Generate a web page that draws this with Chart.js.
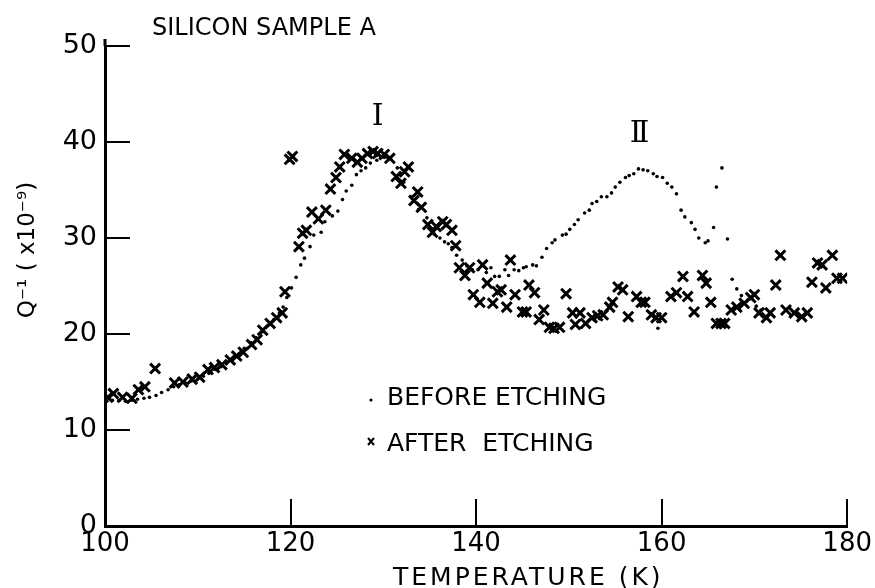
<!DOCTYPE html>
<html>
<head>
<meta charset="utf-8">
<script src="https://cdn.jsdelivr.net/npm/chart.js@4.4.1/dist/chart.umd.min.js"></script>
<style>
  html, body { margin: 0; padding: 0; background: #fff; }
  #wrap { width: 875px; height: 588px; }
</style>
</head>
<body>
<div id="wrap"><canvas id="chart" width="875" height="588"></canvas></div>
<script>
// Internal friction Q^-1 (x1e-9) vs temperature, silicon sample A
var beforeT = [100.2, 100.8, 101.5, 102.2, 102.9, 103.5, 104.2, 104.8, 105.5, 106.1,
  106.8, 107.4, 108.0, 108.7, 109.3, 110.0, 110.6, 111.2, 111.9, 112.5,
  113.1, 113.8, 114.4, 115.0, 115.7, 116.3, 116.9, 117.6, 118.2, 118.8,
  119.2, 119.6, 120.1, 120.6, 121.1, 121.5, 122.1, 122.5, 123.3, 123.7,
  124.5, 125.1, 125.6, 126.0, 126.6, 127.1, 127.6, 128.1, 128.6, 129.3,
  130.1, 130.8, 131.5, 132.2, 133.0, 133.8, 134.7, 135.5, 136.1, 136.6,
  137.0, 137.4, 137.9, 138.5, 139.0, 139.6, 140.2, 141.1, 141.6, 142.0,
  142.5, 143.1, 143.5, 144.1, 144.6, 145.1, 145.4, 146.1, 146.5, 147.1,
  147.6, 148.2, 148.5, 149.3, 149.7, 150.1, 150.6, 151.0, 151.7, 152.2,
  152.5, 153.0, 153.5, 154.1, 154.6, 155.0, 155.5, 156.1, 156.5, 157.0,
  157.5, 158.0, 158.5, 159.1, 159.5, 159.6, 160.1, 160.6, 161.1, 161.6,
  162.1, 162.5, 163.2, 163.6, 164.0, 164.7, 165.0, 165.6, 165.9, 166.5,
  167.1, 167.6, 168.1, 168.6, 170.2, 170.7];
var beforeQ = [13.0, 13.1, 13.1, 13.0, 13.1, 13.2, 13.3, 13.4, 13.6, 13.9,
  14.2, 14.5, 14.7, 14.9, 15.1, 15.3, 15.6, 15.9, 16.3, 16.6,
  17.0, 17.5, 17.9, 18.5, 19.1, 19.6, 20.2, 20.9, 21.5, 22.2,
  22.8, 23.8, 24.8, 25.9, 27.2, 27.9, 29.1, 30.3, 30.6, 31.7,
  32.3, 32.8, 34.0, 34.9, 35.5, 36.6, 37.0, 37.3, 37.8, 38.1,
  38.4, 38.2, 37.3, 35.8, 34.3, 33.0, 32.1, 30.4, 30.0, 29.6,
  29.4, 29.0, 28.2, 27.7, 27.1, 26.7, 26.7, 26.4, 26.9, 26.0,
  26.0, 26.7, 26.1, 26.7, 26.6, 26.9, 27.0, 27.2, 27.1, 28.0,
  28.9, 29.5, 29.8, 30.3, 30.4, 30.9, 31.4, 31.9, 32.6, 32.9,
  33.6, 33.8, 34.3, 34.3, 34.7, 35.3, 35.8, 36.3, 36.5, 36.7,
  37.2, 37.1, 37.0, 36.7, 36.4, 20.6, 36.3, 35.7, 35.3, 34.6,
  32.9, 32.2, 31.6, 30.9, 30.0, 29.5, 29.7, 31.1, 35.3, 37.3,
  29.9, 25.7, 24.7, 24.0, 22.9, 22.5];

var afterT = [100.3, 100.9, 101.9, 102.9, 103.6, 104.3, 105.4, 107.5, 108.4, 109.4,
  110.2, 111.1, 111.8, 112.6, 113.5, 114.2, 114.9, 115.8, 116.4, 117.0,
  117.8, 118.5, 119.1, 119.4, 119.9, 120.2, 120.9, 121.3, 121.7, 122.3,
  123.0, 123.8, 124.3, 124.9, 125.3, 125.8, 126.6, 127.2, 127.7, 128.3,
  128.9, 129.4, 130.1, 130.7, 131.4, 131.9, 132.3, 132.7, 133.3, 133.7,
  134.1, 134.8, 135.3, 135.7, 136.4, 136.8, 137.4, 137.8, 138.2, 138.8,
  139.3, 139.7, 140.4, 140.7, 141.2, 141.8, 142.3, 142.7, 143.3, 143.7,
  144.2, 145.0, 145.4, 145.7, 146.3, 146.8, 147.3, 147.9, 148.4, 149.0,
  149.7, 150.4, 150.7, 151.2, 151.8, 152.5, 153.1, 153.7, 154.4, 154.7,
  155.3, 155.8, 156.4, 157.3, 157.8, 158.2, 158.9, 159.4, 160.0, 161.0,
  161.6, 162.3, 162.8, 163.5, 164.4, 164.8, 165.3, 165.9, 166.4, 166.8,
  167.5, 168.1, 168.9, 169.6, 170.0, 170.5, 171.3, 171.7, 172.3, 172.8,
  173.4, 174.3, 175.1, 175.7, 176.2, 176.8, 177.3, 177.7, 178.4, 178.9,
  179.5];
var afterQ = [13.4, 13.8, 13.4, 13.3, 14.2, 14.5, 16.4, 14.9, 15.0, 15.3,
  15.5, 16.3, 16.5, 16.8, 17.3, 17.7, 18.1, 18.9, 19.4, 20.4,
  21.1, 21.7, 22.2, 24.4, 38.2, 38.5, 29.1, 30.5, 30.8, 32.7,
  32.0, 32.9, 35.1, 36.3, 37.4, 38.7, 38.3, 37.9, 38.3, 38.8,
  39.0, 38.8, 38.7, 38.3, 36.4, 35.7, 36.9, 37.4, 33.9, 34.8,
  33.2, 31.4, 30.6, 31.2, 31.7, 31.4, 30.8, 29.2, 26.9, 26.1,
  26.9, 24.1, 23.3, 27.2, 25.3, 23.2, 24.4, 24.6, 22.8, 27.7,
  24.1, 22.3, 22.3, 25.1, 24.3, 21.5, 22.5, 20.7, 20.6, 20.7,
  24.2, 22.2, 21.0, 22.2, 21.1, 21.7, 21.9, 22.0, 22.8, 23.3,
  24.9, 24.6, 21.8, 23.9, 23.3, 23.3, 22.0, 21.7, 21.7, 23.9,
  24.3, 26.0, 23.9, 22.3, 26.1, 25.3, 23.3, 21.1, 21.1, 21.1,
  22.5, 22.8, 23.2, 23.8, 24.1, 22.2, 21.7, 22.2, 25.1, 28.2,
  22.5, 22.2, 21.8, 22.2, 25.4, 27.4, 27.2, 24.8, 28.2, 25.8,
  25.8];

var tempTicks = [100, 120, 140, 160, 180];
var qTicks = [0, 10, 20, 30, 40, 50];

var FONT = '"DejaVu Sans", sans-serif';

function points(xs, ys) {
  return xs.map(function (x, i) { return { x: x, y: ys[i] }; });
}

// inward tick marks and the short stub above the top of the Q axis
var innerTicks = {
  id: 'innerTicks',
  afterDraw: function (chart) {
    var ctx = chart.ctx, xs = chart.scales.x, ys = chart.scales.y;
    ctx.save();
    ctx.strokeStyle = '#000';
    ctx.lineWidth = 2;
    ctx.beginPath();
    tempTicks.slice(1).forEach(function (t) {
      var px = Math.round(xs.getPixelForValue(t));
      ctx.moveTo(px, ys.bottom);
      ctx.lineTo(px, ys.bottom - 27);
    });
    qTicks.slice(1).forEach(function (q) {
      var py = Math.round(ys.getPixelForValue(q));
      ctx.moveTo(xs.left, py);
      ctx.lineTo(xs.left + 25, py);
    });
    ctx.stroke();
    ctx.lineWidth = 3;
    ctx.beginPath();
    ctx.moveTo(xs.left, ys.top);
    ctx.lineTo(xs.left, ys.top - 7);
    ctx.stroke();
    ctx.restore();
  }
};

// title, axis titles, legend and peak labels
var annotations = {
  id: 'annotations',
  afterDraw: function (chart) {
    var ctx = chart.ctx, xs = chart.scales.x, ys = chart.scales.y;
    ctx.save();
    ctx.fillStyle = '#000';
    ctx.strokeStyle = '#000';
    ctx.textBaseline = 'alphabetic';

    ctx.font = '24px ' + FONT;
    ctx.textAlign = 'left';
    ctx.fillText('SILICON SAMPLE A', 152, 35);

    ctx.font = '25px ' + FONT;
    ctx.letterSpacing = '3px';
    ctx.fillText('TEMPERATURE (K)', 393, 585);

    // legend
    ctx.letterSpacing = '0px';
    ctx.fillText('BEFORE ETCHING', 387, 405);
    ctx.fillText('AFTER  ETCHING', 387, 451);
    ctx.beginPath();
    ctx.arc(371, 400, 1.6, 0, Math.PI * 2);
    ctx.fill();
    ctx.lineWidth = 2;
    ctx.beginPath();
    ctx.moveTo(368, 438); ctx.lineTo(374, 445);
    ctx.moveTo(374, 438); ctx.lineTo(368, 445);
    ctx.stroke();

    // peak labels
    ctx.font = '30px "DejaVu Serif", serif';
    ctx.textAlign = 'center';
    ctx.textBaseline = 'middle';
    ctx.fillText('I', xs.getPixelForValue(129.4), ys.getPixelForValue(42.6));
    ctx.letterSpacing = '-4px';
    ctx.fillText('II', xs.getPixelForValue(157.4), ys.getPixelForValue(40.8));
    ctx.letterSpacing = '0px';

    // rotated Q axis title
    ctx.translate(28, 250);
    ctx.rotate(-Math.PI / 2);
    ctx.font = '23px ' + FONT;
    ctx.fillText('Q\u207B\u00B9 ( x10\u207B\u2079)', 0, 0);
    ctx.restore();
  }
};

new Chart(document.getElementById('chart'), {
  type: 'scatter',
  data: {
    datasets: [{
      label: 'BEFORE ETCHING',
      data: points(beforeT, beforeQ),
      pointStyle: 'circle',
      pointRadius: 1.8,
      pointBorderWidth: 0,
      pointBackgroundColor: '#000',
      borderColor: '#000'
    }, {
      label: 'AFTER ETCHING',
      data: points(afterT, afterQ),
      pointStyle: 'crossRot',
      pointRadius: 7,
      pointBorderWidth: 3,
      pointBorderColor: '#000',
      borderColor: '#000'
    }]
  },
  options: {
    responsive: false,
    animation: false,
    devicePixelRatio: 1,
    layout: { padding: { left: 0, top: 46, right: 27, bottom: 0 } },
    plugins: { legend: { display: false }, tooltip: { enabled: false } },
    scales: {
      x: {
        type: 'linear',
        min: 100,
        max: 180,
        afterBuildTicks: function (scale) {
          scale.ticks = tempTicks.map(function (v) { return { value: v }; });
        },
        afterFit: function (scale) { scale.height = 62; },
        grid: { display: false, drawTicks: false },
        border: { display: true, color: '#000', width: 3 },
        ticks: { color: '#000', padding: 3, font: { family: FONT, size: 26 }, maxRotation: 0 }
      },
      y: {
        type: 'linear',
        min: 0,
        max: 50,
        afterBuildTicks: function (scale) {
          scale.ticks = qTicks.map(function (v) { return { value: v }; });
        },
        afterFit: function (scale) { scale.width = 105; },
        grid: { display: false, drawTicks: false },
        border: { display: true, color: '#000', width: 3 },
        ticks: { color: '#000', padding: 8, font: { family: FONT, size: 27 } }
      }
    }
  },
  plugins: [innerTicks, annotations]
});
</script>
</body>
</html>
